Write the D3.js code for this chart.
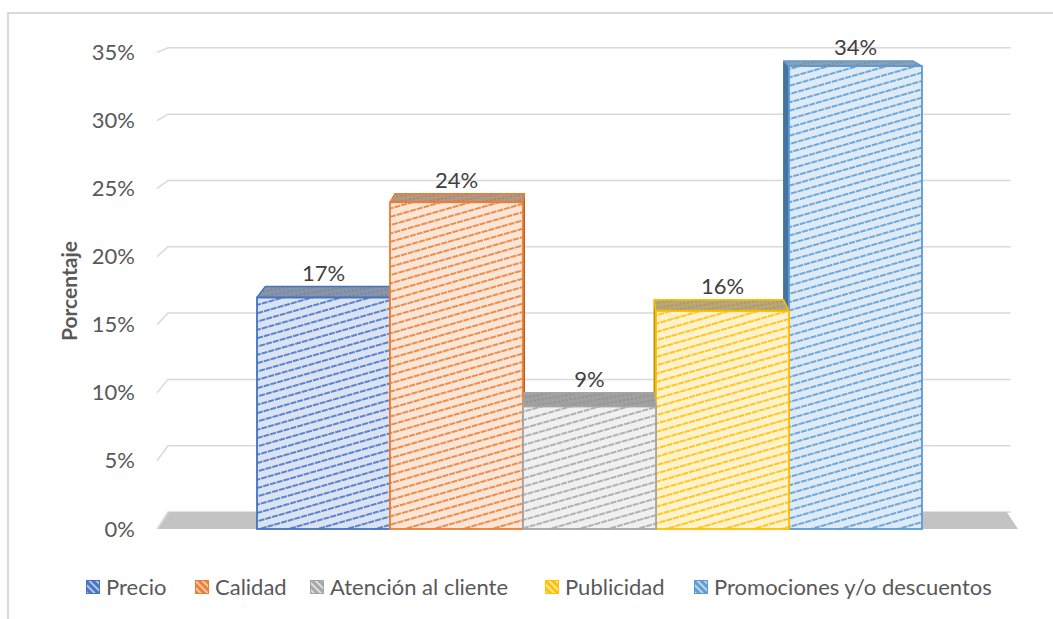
<!DOCTYPE html>
<html><head><meta charset="utf-8">
<script src="https://cdn.jsdelivr.net/npm/d3@7"></script>
<style>body{margin:0;background:#fff} svg{display:block} text{font-family:Lato,"Open Sans",sans-serif}</style>
</head><body><svg id="c" width="1053" height="619"></svg>
<script>
const series = ["Precio","Calidad","Atención al cliente","Publicidad","Promociones y/o descuentos"];
const values = [0.17,0.24,0.09,0.16,0.34];
const valueLabels = ["17%","24%","9%","16%","34%"];
const tickValues = [0,0.05,0.10,0.15,0.20,0.25,0.30,0.35];
const colors = ["#4472C4","#ED7D31","#A5A5A5","#FFC000","#5B9BD5"];
const lightFill = ["#dae3f3","#fbe5d6","#f0f0f0","#fff2cc","#deebf7"];
const legendX = [86,195,310,545,694];

const svg = d3.select("#c");
svg.append("rect").attr("width",1053).attr("height",619).attr("fill","#fff");
// chart border (top/left visible)
svg.append("path").attr("d","M8,619 L8,13 L1053,13").attr("fill","none").attr("stroke","#d9d9d9").attr("stroke-width",2);

const VX=580, VY=-127, D=0.0259;
const back = p => [p[0]+D*(VX-p[0]), p[1]+D*(VY-p[1])];

const y = d3.scaleLinear().domain([0,0.35]).range([529,52.5]);
const x = d3.scaleBand().domain(series).range([257,922]).padding(0);

const defs = svg.append("defs");
colors.forEach((c,i)=>{
  const p = defs.append("pattern").attr("id","f"+i).attr("patternUnits","userSpaceOnUse")
    .attr("width",14).attr("height",8).attr("patternTransform","rotate(-16)");
  p.append("rect").attr("width",14).attr("height",8).attr("fill",lightFill[i]);
  p.append("line").attr("x1",0).attr("x2",14).attr("y1",4).attr("y2",4)
    .attr("stroke",c).attr("stroke-width",2).attr("stroke-opacity",0.85).attr("stroke-dasharray","6 1");
  const topBg = d3.interpolateRgb(c,"#a0a0a0")(0.74);
  const t = defs.append("pattern").attr("id","t"+i).attr("patternUnits","userSpaceOnUse")
    .attr("width",8).attr("height",5).attr("patternTransform","rotate(-10)");
  t.append("rect").attr("width",8).attr("height",5).attr("fill",topBg);
  t.append("line").attr("x1",0).attr("x2",8).attr("y1",2.5).attr("y2",2.5)
    .attr("stroke",d3.color(topBg).darker(0.4)).attr("stroke-width",1.4).attr("stroke-dasharray","2 2");
  const l = defs.append("pattern").attr("id","l"+i).attr("patternUnits","userSpaceOnUse")
    .attr("width",5).attr("height",5).attr("patternTransform","rotate(45)");
  l.append("rect").attr("width",5).attr("height",5).attr("fill",c);
  l.append("line").attr("x1",0).attr("x2",5).attr("y1",2.5).attr("y2",2.5)
    .attr("stroke",lightFill[i]).attr("stroke-width",1.6);
});

// walls: gridlines
const wallL = 157, wallR = 1022;
const grid = svg.append("g");
tickValues.forEach(t=>{
  const f=[wallL,y(t)], b1=back(f), b2=back([wallR,y(t)]);
  grid.append("path").attr("d",`M${f}L${b1}L${b2}`).attr("fill","none")
    .attr("stroke","#d9d9d9").attr("stroke-width",1.5);
});
// floor
const fl=[158,y(0)], fr=[1018,y(0)];
svg.append("polygon").attr("points",[fl,fr,back(fr),back(fl)].map(p=>p.join(",")).join(" "))
  .attr("fill","#c3c3c3");

// y axis labels
const ax = svg.append("g").attr("transform","translate(147,0)")
  .call(d3.axisLeft(y).tickValues(tickValues).tickFormat(d3.format(".0%")).tickSize(0).tickPadding(12));
ax.select(".domain").remove();
ax.selectAll("text").attr("font-size",22).attr("fill","#595959").attr("font-family","Lato");

svg.append("text").attr("transform","translate(77,291) rotate(-90)").attr("text-anchor","middle")
  .attr("font-size",21).attr("font-weight","bold").attr("fill","#595959").text("Porcentaje");

// bars (painter's order: farthest from vanishing x first)
const order = d3.range(series.length).sort((a,b)=>
  Math.abs(x(series[b])+x.bandwidth()/2-VX)-Math.abs(x(series[a])+x.bandwidth()/2-VX));
const bars = svg.append("g");
order.forEach(i=>{
  const x0=x(series[i]), x1=x0+x.bandwidth(), yt=y(values[i]), yb=y(0);
  const g = bars.append("g");
  const poly = pts => pts.map(p=>p.join(",")).join(" ");
  const side = d3.color(colors[i]).darker(0.8);
  if (x0 > VX) {
    g.append("polygon").attr("points",poly([[x0,yt],back([x0,yt]),back([x0,yb]),[x0,yb]]))
      .attr("fill",side).attr("stroke",side).attr("stroke-width",1);
  }
  if (x1 < VX) {
    g.append("polygon").attr("points",poly([[x1,yt],back([x1,yt]),back([x1,yb]),[x1,yb]]))
      .attr("fill",side).attr("stroke",side).attr("stroke-width",1);
  }
  g.append("polygon").attr("points",poly([[x0,yt],[x1,yt],back([x1,yt]),back([x0,yt])]))
    .attr("fill",`url(#t${i})`).attr("stroke",colors[i]).attr("stroke-width",1.5).attr("stroke-linejoin","round");
  g.append("rect").attr("x",x0).attr("y",yt).attr("width",x1-x0).attr("height",yb-yt)
    .attr("fill",`url(#f${i})`).attr("stroke",colors[i]).attr("stroke-width",1.8);
});
// data labels
series.forEach((s,i)=>{
  const cx = x(s)+x.bandwidth()/2, by = back([cx,y(values[i])])[1];
  svg.append("text").attr("x",cx).attr("y",by-6).attr("text-anchor","middle")
    .attr("font-size",22).attr("fill","#404040").text(valueLabels[i]);
});

// legend
const leg = svg.append("g");
series.forEach((s,i)=>{
  leg.append("rect").attr("x",legendX[i]+0.5).attr("y",580.5).attr("width",13).attr("height",13)
    .attr("fill",`url(#l${i})`).attr("stroke",colors[i]).attr("stroke-width",1);
  leg.append("text").attr("x",legendX[i]+20).attr("y",595).attr("font-size",22)
    .attr("fill","#595959").text(s);
});
</script></body></html>
